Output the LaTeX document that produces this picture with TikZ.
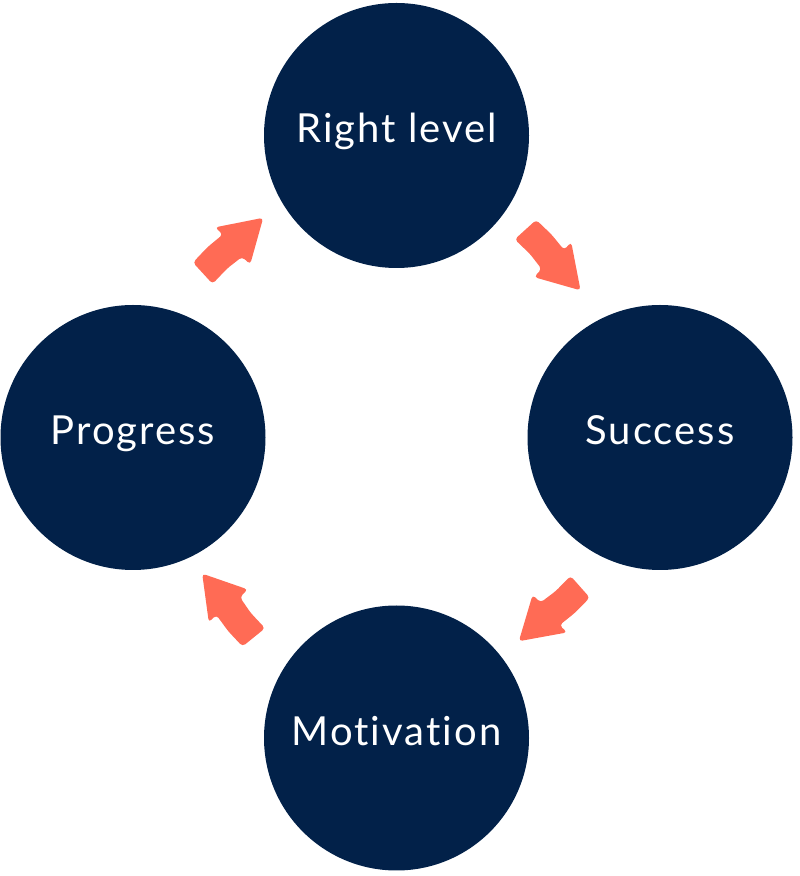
\documentclass[tikz,border=0pt]{standalone}
\usepackage{fontspec}
\setmainfont[Ligatures={NoCommon},LetterSpace=5]{Lato}
\definecolor{navy}{HTML}{022149}
\definecolor{arrowc}{HTML}{FF6B55}
\tikzset{
  stage/.style={circle, fill=navy, minimum size=265pt, inner sep=0pt, text=white,
    text height=23pt, text depth=8pt, font=\fontsize{40}{46}\selectfont},
  blockarrow/.style={fill=arrowc, rounded corners=3.5pt}
}
\newcommand{\cyclearrow}[3]{%
  \fill[blockarrow, shift={(#1)}, rotate=#2] (-41,14.5) -- (-20,16) -- (0,15) -- (-1,25.5) -- (41,0) -- (0,-25.5) -- (-1,-14.5) -- (-20,-13) -- (-41,-14.5) -- cycle;
  \coordinate (#3) at (#1);
}
\begin{document}
\begin{tikzpicture}[x=1pt,y=1pt]
\useasboundingbox (0,0) rectangle (800,876);
\node[stage] (rl) at (396.5,740.5) {Right level};
\node[stage] (su) at (660,438.5) {Success};
\node[stage] (mo) at (396.5,138) {Motivation};
\node[stage] (pr) at (133,438.5) {Progress};
\cyclearrow{233,630.5}{42.5}{a1}
\cyclearrow{553,616}{-47.8}{a2}
\cyclearrow{549.5,262}{221.6}{a3}
\cyclearrow{228,270.5}{129}{a4}
\end{tikzpicture}
\end{document}
